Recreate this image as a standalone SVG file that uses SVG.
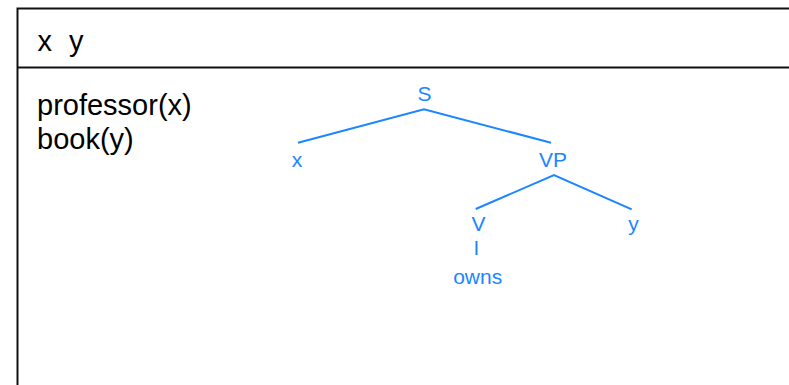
<svg xmlns="http://www.w3.org/2000/svg" width="789" height="385" viewBox="0 0 789 385">
<style>
.box{fill:#fff;stroke:#111;stroke-width:2}
.t{font-family:"Liberation Sans",Arial,sans-serif;font-size:29px;fill:#000}
.b{font-family:"Liberation Sans",Arial,sans-serif;font-size:21px;fill:#1a86ff;text-anchor:middle}
.e{stroke:#1a86ff;stroke-width:2;fill:none}
</style>
<rect width="789" height="385" fill="#fff"/>
<g id="drs">
<rect class="box" x="17.5" y="8.5" width="800" height="400"/>
<line x1="17.5" y1="67.5" x2="789" y2="67.5" stroke="#111" stroke-width="2"/>
<text class="t" x="37.5" y="51">x</text>
<text class="t" x="69" y="51">y</text>
<text class="t" x="37" y="114.5">professor(x)</text>
<text class="t" x="37" y="148.5">book(y)</text>
</g>
<g id="connectors">
<polyline class="e" points="298,142.7 424,109.3 551,142.7"/>
<polyline class="e" points="475.7,209 554,175 631.7,209.3"/>
<line class="e" x1="476.5" y1="241" x2="476.5" y2="255"/>
</g>
<g id="node-S"><text class="b" x="424.5" y="101">S</text></g>
<g id="node-x"><text class="b" x="297" y="167">x</text></g>
<g id="node-VP"><text class="b" x="553" y="167">VP</text></g>
<g id="node-V"><text class="b" x="478.5" y="231">V</text></g>
<g id="node-y"><text class="b" x="633.5" y="231">y</text></g>
<g id="node-owns"><text class="b" x="477.7" y="284">owns</text></g>
</svg>
